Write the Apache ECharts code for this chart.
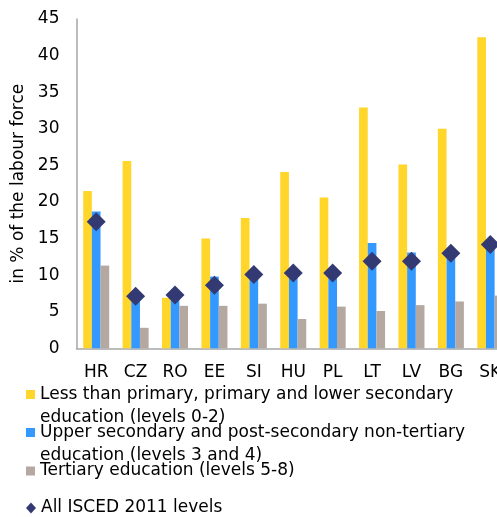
<!DOCTYPE html>
<html>
<head>
<meta charset="utf-8">
<script src="https://cdn.jsdelivr.net/npm/echarts@6/dist/echarts.min.js"></script>
<style>
  html, body { margin: 0; padding: 0; background: #fff; overflow: hidden; }
  /* the original cuts the last category at the right edge, so the chart is wider than the window */
  #chart { width: 510px; height: 517px; }
</style>
</head>
<body>
<div id="chart"></div>
<script>
// countries on the x axis
const countries = ['HR', 'CZ', 'RO', 'EE', 'SI', 'HU', 'PL', 'LT', 'LV', 'BG', 'SK'];

// unemployment rate by education level, % of the labour force
const lowerSecondary = [21.5, 25.6, 6.9, 15.0, 17.8, 24.1, 20.6, 32.9, 25.1, 30.0, 42.5];
const upperSecondary = [18.7, 6.9, 7.0, 9.8, 10.0, 10.1, 10.8, 14.4, 13.1, 13.0, 13.8];
const tertiary = [11.3, 2.8, 5.8, 5.8, 6.1, 4.0, 5.7, 5.1, 5.9, 6.4, 7.2];
const allLevels = [17.3, 7.1, 7.3, 8.6, 10.1, 10.3, 10.3, 11.9, 11.9, 13.0, 14.2];

const seriesNames = [
  'Less than primary, primary and lower secondary\neducation (levels 0-2)',
  'Upper secondary and post-secondary non-tertiary\neducation (levels 3 and 4)',
  'Tertiary education (levels 5-8)',
  'All ISCED 2011 levels'
];

const FONT = 'DejaVu Sans';
const chart = echarts.init(document.getElementById('chart'));

// one legend per item so the rows sit like in the original
function legendItem(name, top, icon, twoLines) {
  return {
    data: [{name: name, icon: icon}],
    left: 26,
    top: top,
    padding: 0,
    itemWidth: icon === 'diamond' ? 10 : 9,
    itemHeight: icon === 'diamond' ? 11 : 9,
    selectedMode: false,
    // blank first line keeps the icon level with the first text line
    formatter: n => twoLines ? '\u00a0\n' + n : n,
    textStyle: {
      fontFamily: FONT,
      fontSize: 17,
      color: '#000',
      lineHeight: 23
    }
  };
}

const option = {
  animation: false,
  textStyle: {fontFamily: FONT},
  grid: {left: 76.5, right: 0, top: 19, bottom: 168.7},
  legend: [
    legendItem(seriesNames[0], 360, 'rect', true),
    legendItem(seriesNames[1], 398, 'rect', true),
    legendItem(seriesNames[2], 459.5, 'rect', false),
    legendItem(seriesNames[3], 496.5, 'diamond', false)
  ],
  xAxis: {
    type: 'category',
    data: countries,
    axisLine: {lineStyle: {color: '#a6a6a6', width: 1.5}},
    axisTick: {show: false},
    axisLabel: {fontFamily: FONT, fontSize: 17, color: '#000', margin: 16}
  },
  yAxis: {
    type: 'value',
    min: 0,
    max: 45,
    interval: 5,
    name: 'in % of the labour force',
    nameLocation: 'middle',
    nameGap: 45,
    nameTextStyle: {fontFamily: FONT, fontSize: 17, color: '#000'},
    axisLine: {show: true, lineStyle: {color: '#a6a6a6', width: 1.5}},
    axisTick: {show: false},
    splitLine: {show: false},
    axisLabel: {fontFamily: FONT, fontSize: 17, color: '#000', margin: 17}
  },
  series: [
    {
      name: seriesNames[0],
      type: 'bar',
      data: lowerSecondary,
      barGap: '0%',
      barCategoryGap: '34%',
      itemStyle: {color: '#ffd629'}
    },
    {
      name: seriesNames[1],
      type: 'bar',
      data: upperSecondary,
      itemStyle: {color: '#3399ff'}
    },
    {
      name: seriesNames[2],
      type: 'bar',
      data: tertiary,
      itemStyle: {color: '#b5a8a0'}
    },
    {
      name: seriesNames[3],
      type: 'scatter',
      data: allLevels,
      symbol: 'diamond',
      symbolSize: 19,
      z: 5,
      itemStyle: {color: '#333a73', opacity: 1}
    }
  ]
};

chart.setOption(option);
</script>
</body>
</html>
